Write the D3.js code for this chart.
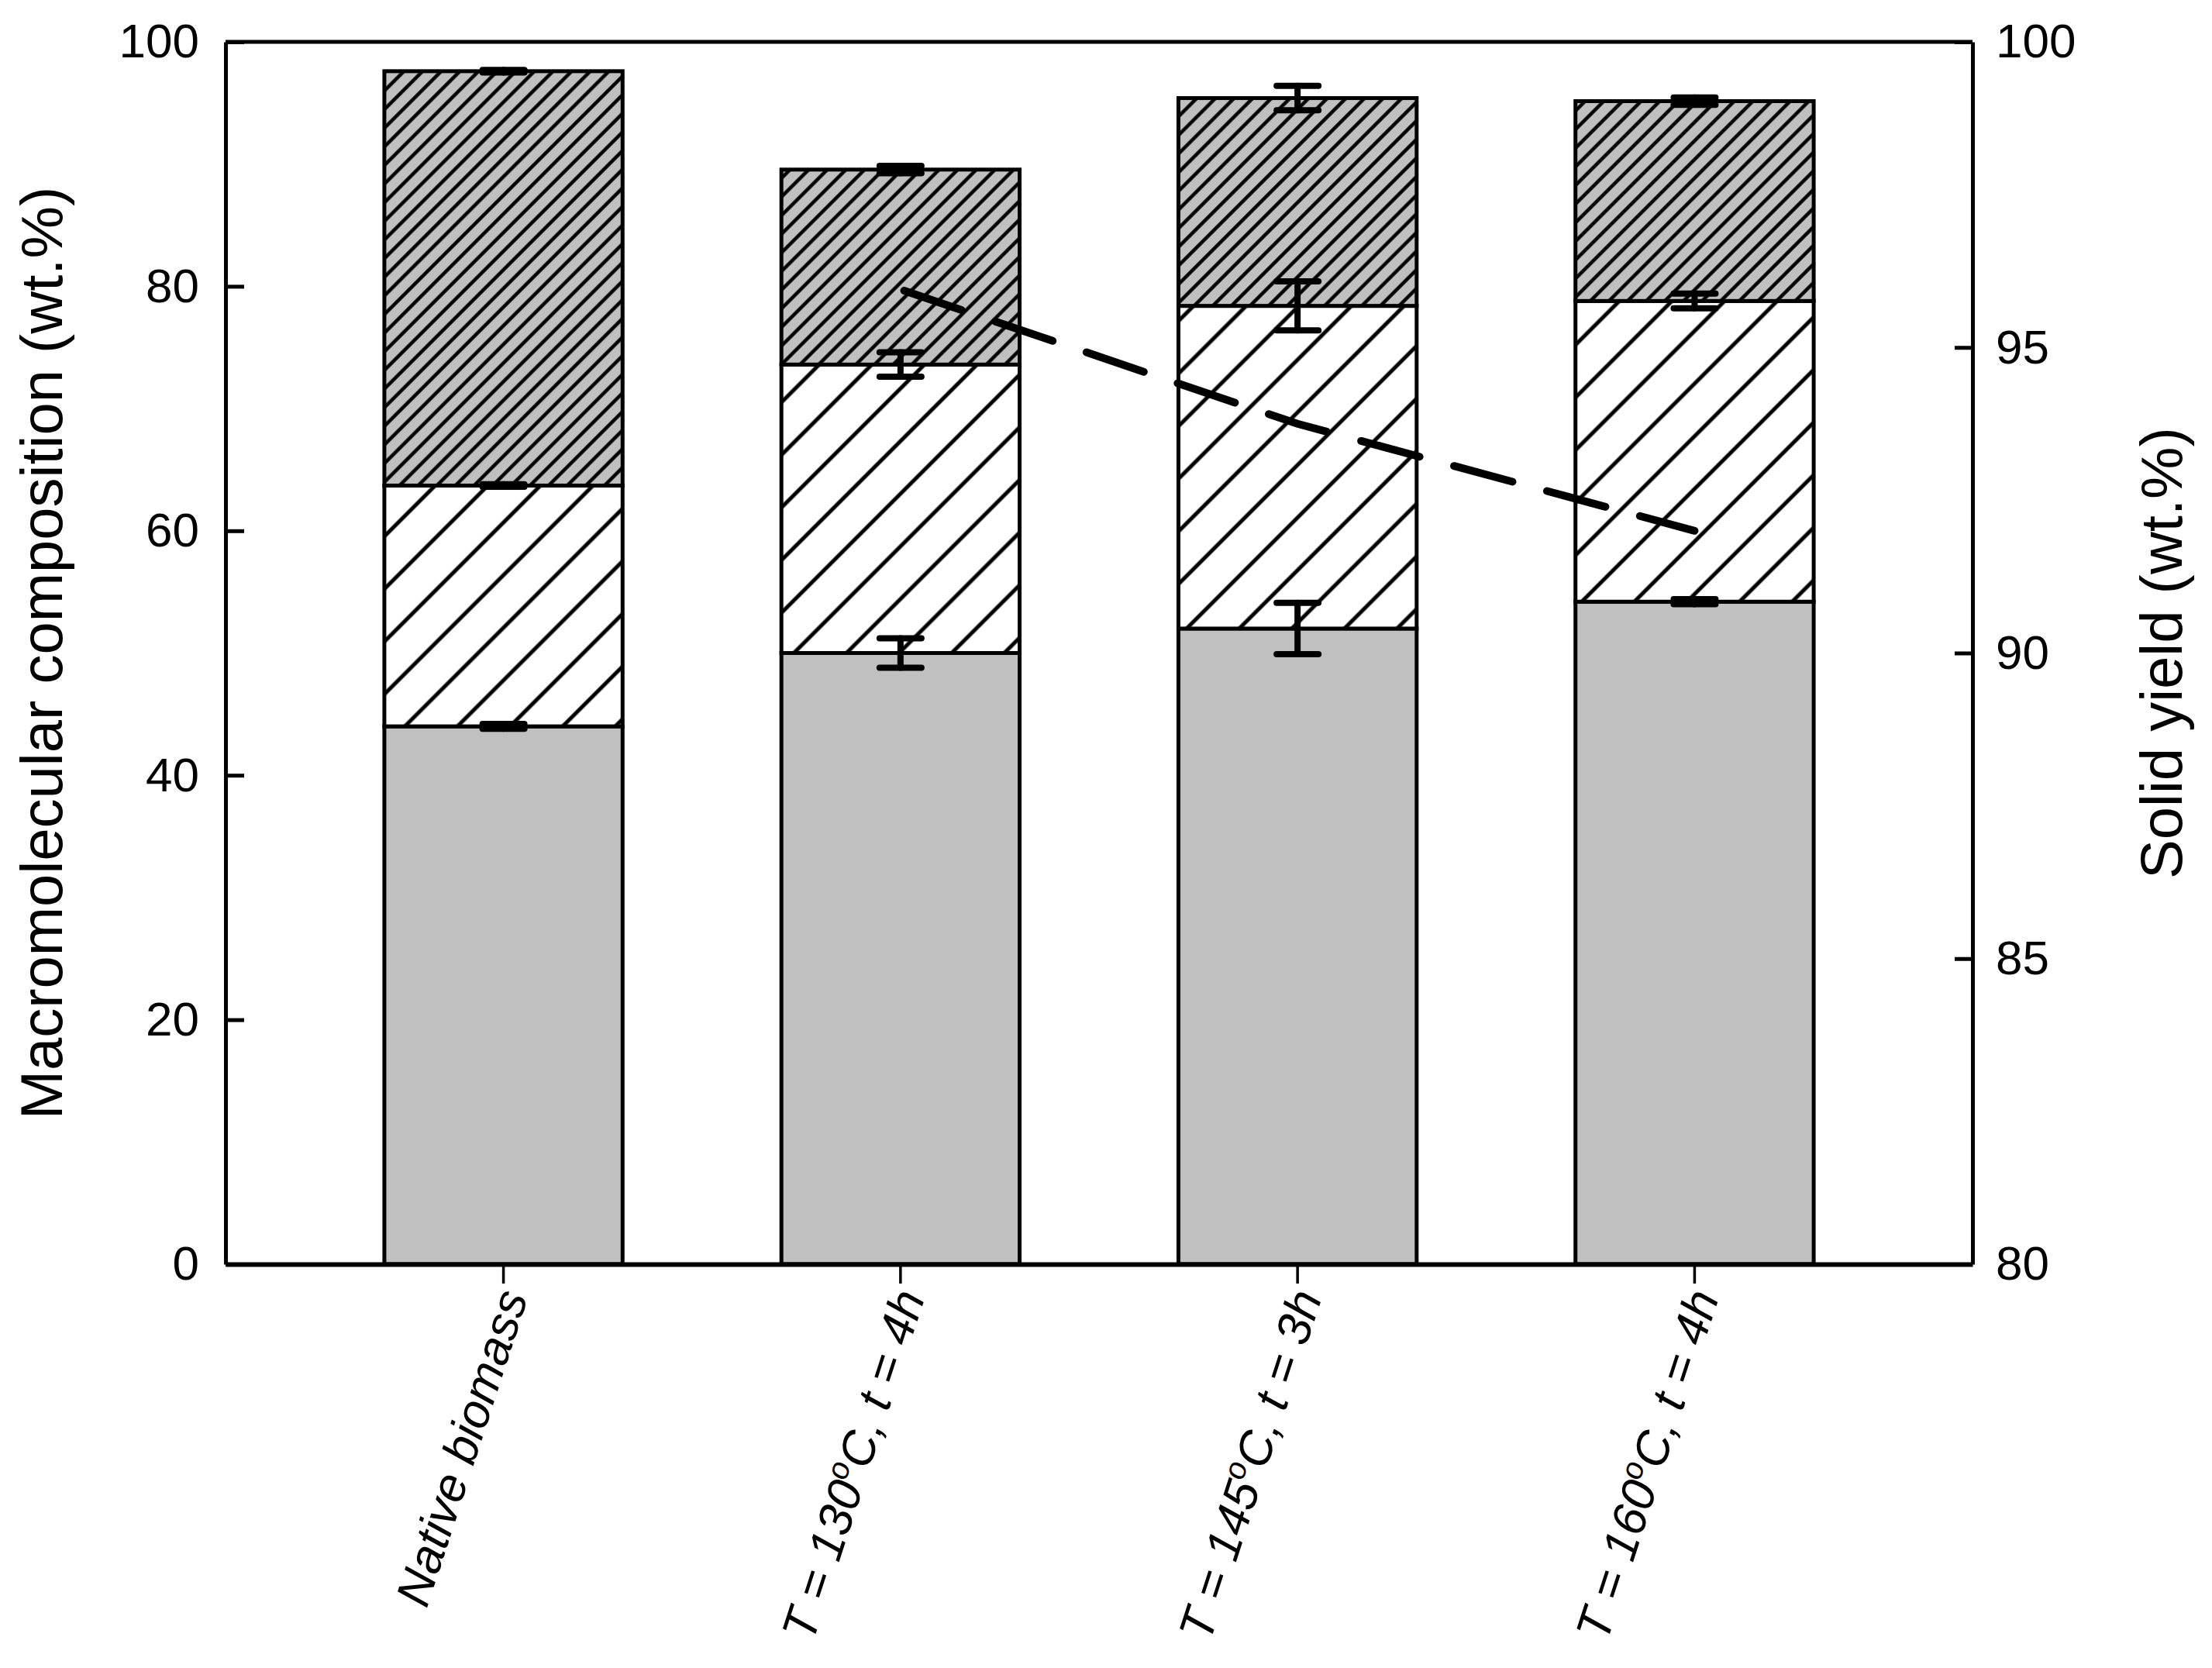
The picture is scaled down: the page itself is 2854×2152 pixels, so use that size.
<!DOCTYPE html>
<html><head><meta charset="utf-8">
<script src="https://cdn.jsdelivr.net/npm/d3@7"></script>
<style>html,body{margin:0;padding:0;background:#fff;}</style>
</head><body><svg id="chart" width="2854" height="2152" xmlns="http://www.w3.org/2000/svg"></svg>
<script>
// ---- data ----
const categories = ["Native biomass", "T = 130°C, t = 4h", "T = 145°C, t = 3h", "T = 160°C, t = 4h"];
const cellulose = [44.0, 50.0, 52.0, 54.2];
const hemicellulose = [19.7, 23.6, 26.4, 24.6];
const lignin = [33.9, 15.95, 17.0, 16.35];
const celluloseErr = [0.2, 1.2, 2.1, 0.2];
const hemicelluloseErr = [0.1, 1.0, 2.0, 0.6];
const ligninErr = [0.1, 0.3, 1.0, 0.3];
const yieldCategories = ["T = 130°C, t = 4h", "T = 145°C, t = 3h", "T = 160°C, t = 4h"];
const solidYield = [95.95, 93.75, 92.0];
const leftTicks = [0, 20, 40, 60, 80, 100];
const rightTicks = [80, 85, 90, 95, 100];
const leftTitle = "Macromolecular composition (wt.%)";
const rightTitle = "Solid yield (wt.%)";

// ---- layout ----
const W = 2854, H = 2152;
const L = 291, R = 2545, T = 54, B = 1631;
const FONT = "'Liberation Sans', Arial, Helvetica, sans-serif";

const svg = d3.select("#chart");
svg.append("rect").attr("width", W).attr("height", H).attr("fill", "#fff");

const defs = svg.append("defs");
function hatch(id, spacing, lw, bg) {
  const p = defs.append("pattern").attr("id", id)
    .attr("patternUnits", "userSpaceOnUse")
    .attr("width", spacing).attr("height", spacing)
    .attr("patternTransform", "rotate(45)");
  p.append("rect").attr("width", spacing).attr("height", spacing).attr("fill", bg);
  p.append("line").attr("x1", spacing / 2).attr("x2", spacing / 2)
    .attr("y1", -2).attr("y2", spacing + 2)
    .attr("stroke", "#000").attr("stroke-width", lw);
}
hatch("sparse", 48, 5, "#ffffff");
hatch("dense", 17, 4.5, "#c0c0c0");

const x = d3.scaleBand().domain(categories).range([L, R]).paddingInner(0.4).paddingOuter(0.4);
const y = d3.scaleLinear().domain([0, 100]).range([B, T]);
const y2 = d3.scaleLinear().domain([80, 100]).range([B, T]);

const table = categories.map((c, i) => ({
  cat: c, cellulose: cellulose[i], hemicellulose: hemicellulose[i], lignin: lignin[i]
}));
const keys = ["cellulose", "hemicellulose", "lignin"];
const fills = {cellulose: "#c0c0c0", hemicellulose: "url(#sparse)", lignin: "url(#dense)"};
const errs = {cellulose: celluloseErr, hemicellulose: hemicelluloseErr, lignin: ligninErr};
const stacked = d3.stack().keys(keys)(table);

const gBars = svg.append("g");
stacked.forEach(layer => {
  gBars.selectAll(null).data(layer).enter().append("rect")
    .attr("x", d => x(d.data.cat))
    .attr("width", x.bandwidth())
    .attr("y", d => y(d[1]))
    .attr("height", d => y(d[0]) - y(d[1]))
    .attr("fill", fills[layer.key])
    .attr("stroke", "#000").attr("stroke-width", 5);
});

// dashed solid-yield line: 9 dashes, starting and ending on a dash
const line = d3.line()
  .x((d, i) => x(yieldCategories[i]) + x.bandwidth() / 2)
  .y(d => y2(d));
const lw = 10;
const yieldPath = svg.append("path").datum(solidYield)
  .attr("d", line).attr("fill", "none")
  .attr("stroke", "#000").attr("stroke-width", lw)
  .attr("stroke-linecap", "round");
const len = yieldPath.node().getTotalLength();
const ratio = 36 / 88, nD = 9;
const D = (len + lw) / (nD + (nD - 1) * ratio);
const G = D * ratio;
yieldPath.attr("stroke-dasharray", `${D - lw},${G + lw}`).attr("stroke-dashoffset", -lw / 2);

// error bars
const gErr = svg.append("g").attr("stroke", "#000").attr("stroke-width", 8).attr("stroke-linecap", "round");
const capW = 54;
stacked.forEach(layer => {
  layer.forEach((d, i) => {
    const cx = x(d.data.cat) + x.bandwidth() / 2;
    const e = errs[layer.key][i];
    const top = d[1];
    gErr.append("line").attr("x1", cx).attr("x2", cx).attr("y1", y(top - e)).attr("y2", y(top + e));
    gErr.append("line").attr("x1", cx - capW / 2).attr("x2", cx + capW / 2).attr("y1", y(top + e)).attr("y2", y(top + e));
    gErr.append("line").attr("x1", cx - capW / 2).attr("x2", cx + capW / 2).attr("y1", y(top - e)).attr("y2", y(top - e));
  });
});

// frame
svg.append("line").attr("x1", L).attr("x2", R).attr("y1", T).attr("y2", T)
  .attr("stroke", "#000").attr("stroke-width", 5);

// axes
const axL = svg.append("g").attr("transform", `translate(${L},0)`)
  .call(d3.axisLeft(y).tickValues(leftTicks).tickSizeInner(-24).tickSizeOuter(0).tickPadding(34).tickFormat(d3.format("d")));
const axR = svg.append("g").attr("transform", `translate(${R},0)`)
  .call(d3.axisRight(y2).tickValues(rightTicks).tickSizeInner(-23).tickSizeOuter(0).tickPadding(30).tickFormat(d3.format("d")));
const axB = svg.append("g").attr("transform", `translate(0,${B})`)
  .call(d3.axisBottom(x).tickSizeInner(25).tickSizeOuter(0).tickFormat(""));
[axL, axR, axB].forEach(a => {
  a.select(".domain").attr("stroke", "#000").attr("stroke-width", 5);
  a.selectAll(".tick line").attr("stroke", "#000").attr("stroke-width", 5);
  a.selectAll(".tick text").attr("fill", "#000").style("font-family", FONT).style("font-size", "62px");
});
axB.select(".domain").attr("stroke-width", 6);
axB.selectAll(".tick line").attr("stroke-width", 3.5);

// category labels
const gLab = svg.append("g");
categories.forEach(c => {
  const t = gLab.append("text")
    .attr("transform", `translate(${x(c) + x.bandwidth() / 2 + 32},${B + 42}) rotate(-72)`)
    .attr("text-anchor", "end")
    .style("font-family", FONT).style("font-size", "62px").style("font-style", "italic")
    .attr("fill", "#000");
  const parts = c.split("°");
  t.append("tspan").text(parts[0]);
  if (parts.length > 1) {
    t.append("tspan").attr("dy", -24).style("font-size", "40px").text("o");
    t.append("tspan").attr("dy", 24).text(parts[1]);
  }
});

// axis titles
svg.append("text").attr("transform", `translate(80,${(T + B) / 2}) rotate(-90)`)
  .attr("text-anchor", "middle").style("font-family", FONT).style("font-size", "76px")
  .attr("fill", "#000").text(leftTitle);
svg.append("text").attr("transform", `translate(2815,${(T + B) / 2}) rotate(-90)`)
  .attr("text-anchor", "middle").style("font-family", FONT).style("font-size", "76px")
  .attr("fill", "#000").text(rightTitle);
</script></body></html>
